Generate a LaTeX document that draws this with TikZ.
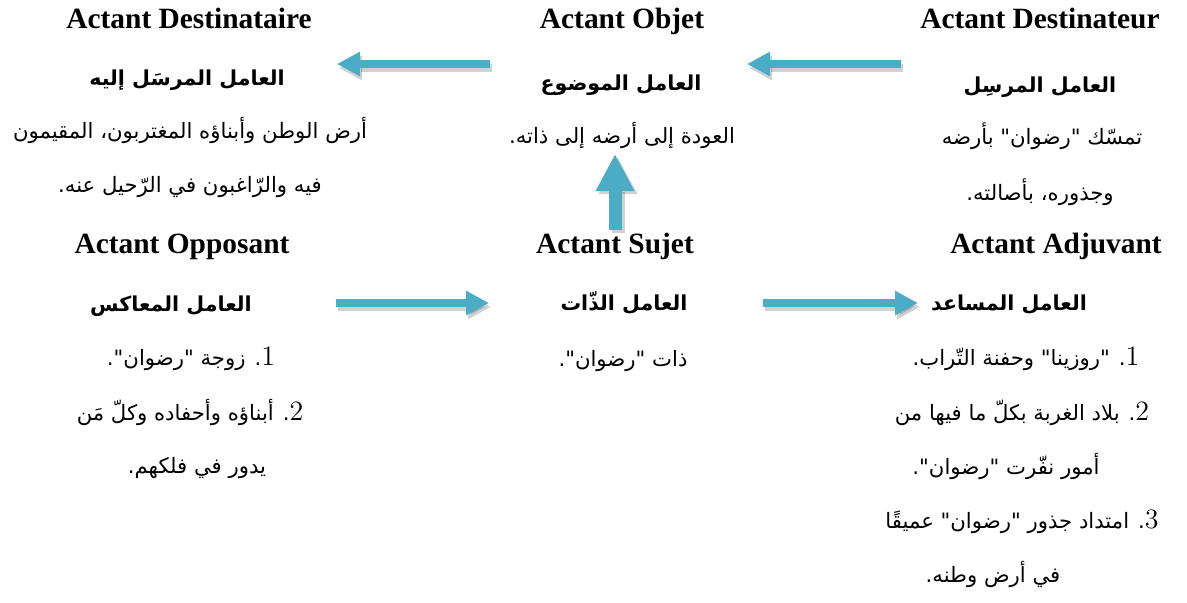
\documentclass[tikz,border=0pt]{standalone}
\usepackage{fontspec}
\usetikzlibrary{arrows.meta}

\TeXXeTstate=1
\newfontfamily\titlefont{Liberation Serif}
\newfontfamily\arabicfont[Script=Arabic]{DejaVu Sans}
\definecolor{aqua}{RGB}{75,172,198}

\newcommand{\arline}[1]{\beginR #1\endR}
\newcommand{\itemnum}[1]{\beginL{\rmfamily\fontsize{14}{14}\selectfont #1}\endL}

\tikzset{
    actant/.style  = {font=\titlefont\bfseries\fontsize{14.7}{16}\selectfont, inner sep=0pt, anchor=base},
    amil/.style    = {font=\arabicfont\bfseries\fontsize{10.3}{12}\selectfont, inner sep=0pt, anchor=base},
    body/.style    = {font=\arabicfont\fontsize{10.6}{12}\selectfont, inner sep=0pt, anchor=base},
    flow/.style    = {aqua, line width=4pt, -{Triangle[length=11.5pt, width=11.5pt]}},
    flowshade/.style = {black, opacity=0.18, line width=4pt, -{Triangle[length=11.5pt, width=11.5pt]}},
}

\begin{document}
\begin{tikzpicture}[x=0.5pt, y=-0.5pt]
        \def \Lx {189};
        \def \Mx {622};
        \def \Rx {1040};

        \useasboundingbox ( 0, 0 ) rectangle ( 1187, 602 );

        % верхний ряд
        \node [actant] (dstT) at ( \Lx, 28 ) {Actant Destinataire};
        \node [actant] (objT) at ( \Mx, 28 ) {Actant Objet};
        \node [actant] (srcT) at ( \Rx, 28 ) {Actant Destinateur};

        \node [amil] (dstH) at ( 187, 85 ) {\arline{العامل المرسَل إليه}};
        \node [amil] (objH) at ( 621, 90 ) {\arline{العامل الموضوع}};
        \node [amil] (srcH) at ( \Rx, 92 ) {\arline{العامل المرسِل}};

        \node [body] (dst1) at ( 190, 138 ) {\arline{أرض الوطن وأبناؤه المغتربون، المقيمون}};
        \node [body] (dst2) at ( 190, 192 ) {\arline{فيه والرّاغبون في الرّحيل عنه.}};
        \node [body] (obj1) at ( \Mx, 143 ) {\arline{العودة إلى أرضه إلى ذاته.}};
        \node [body] (src1) at ( 1042, 144 ) {\arline{تمسّك "رضوان" بأرضه}};
        \node [body] (src2) at ( \Rx, 200 ) {\arline{وجذوره، بأصالته.}};

        % нижний ряд
        \node [actant] (oppT) at ( 182, 253 ) {Actant Opposant};
        \node [actant] (subT) at ( 615, 253 ) {Actant Sujet};
        \node [actant] (adjT) at ( 1056, 253 ) {Actant Adjuvant};

        \node [amil] (oppH) at ( 171, 311 ) {\arline{العامل المعاكس}};
        \node [amil] (subH) at ( 624, 310 ) {\arline{العامل الذّات}};
        \node [amil] (adjH) at ( 1009, 310 ) {\arline{العامل المساعد}};

        \node [body] (opp1) at ( 191, 365 ) {\arline{\itemnum{1}. زوجة "رضوان".}};
        \node [body] (opp2) at ( 190, 420 ) {\arline{\itemnum{2}. أبناؤه وأحفاده وكلّ مَن}};
        \node [body] (opp3) at ( 197, 473 ) {\arline{يدور في فلكهم.}};

        \node [body] (sub1) at ( 623, 366 ) {\arline{ذات "رضوان".}};

        \node [body] (adj1) at ( 1026, 365 ) {\arline{\itemnum{1}. "روزينا" وحفنة التّراب.}};
        \node [body] (adj2) at ( 1022, 420 ) {\arline{\itemnum{2}. بلاد الغربة بكلّ ما فيها من}};
        \node [body] (adj3) at ( 1006, 474 ) {\arline{أمور نفّرت "رضوان".}};
        \node [body] (adj4) at ( 1022, 528 ) {\arline{\itemnum{3}. امتداد جذور "رضوان" عميقًا}};
        \node [body] (adj5) at ( 993, 582 ) {\arline{في أرض وطنه.}};

        % концы стрелок
        \coordinate (a1s) at ( 490, 64 );
        \coordinate (a1e) at ( 337, 64 );
        \coordinate (a2s) at ( 901, 64 );
        \coordinate (a2e) at ( 747, 64 );
        \coordinate (a4s) at ( 336, 303 );
        \coordinate (a4e) at ( 489, 303 );
        \coordinate (a5s) at ( 763, 303 );
        \coordinate (a5e) at ( 918, 303 );
        \coordinate (a3s) at ( 615, 230 );
        \coordinate (a3e) at ( 615, 154 );

        % стрелки
        \foreach \s/\e in {a1s/a1e, a2s/a2e, a4s/a4e, a5s/a5e} {
            \draw [flowshade] ([shift={(2,4)}]\s) -- ([shift={(2,4)}]\e);
            \draw [flow] (\s) -- (\e);
        }
        \draw [flowshade, line width=6.5pt, -{Triangle[length=18.5pt, width=18pt]}] ([shift={(3,3)}]a3s) -- ([shift={(3,3)}]a3e);
        \draw [flow, line width=6.5pt, -{Triangle[length=18.5pt, width=18pt]}] (a3s) -- (a3e);
    \end{tikzpicture}
\end{document}
